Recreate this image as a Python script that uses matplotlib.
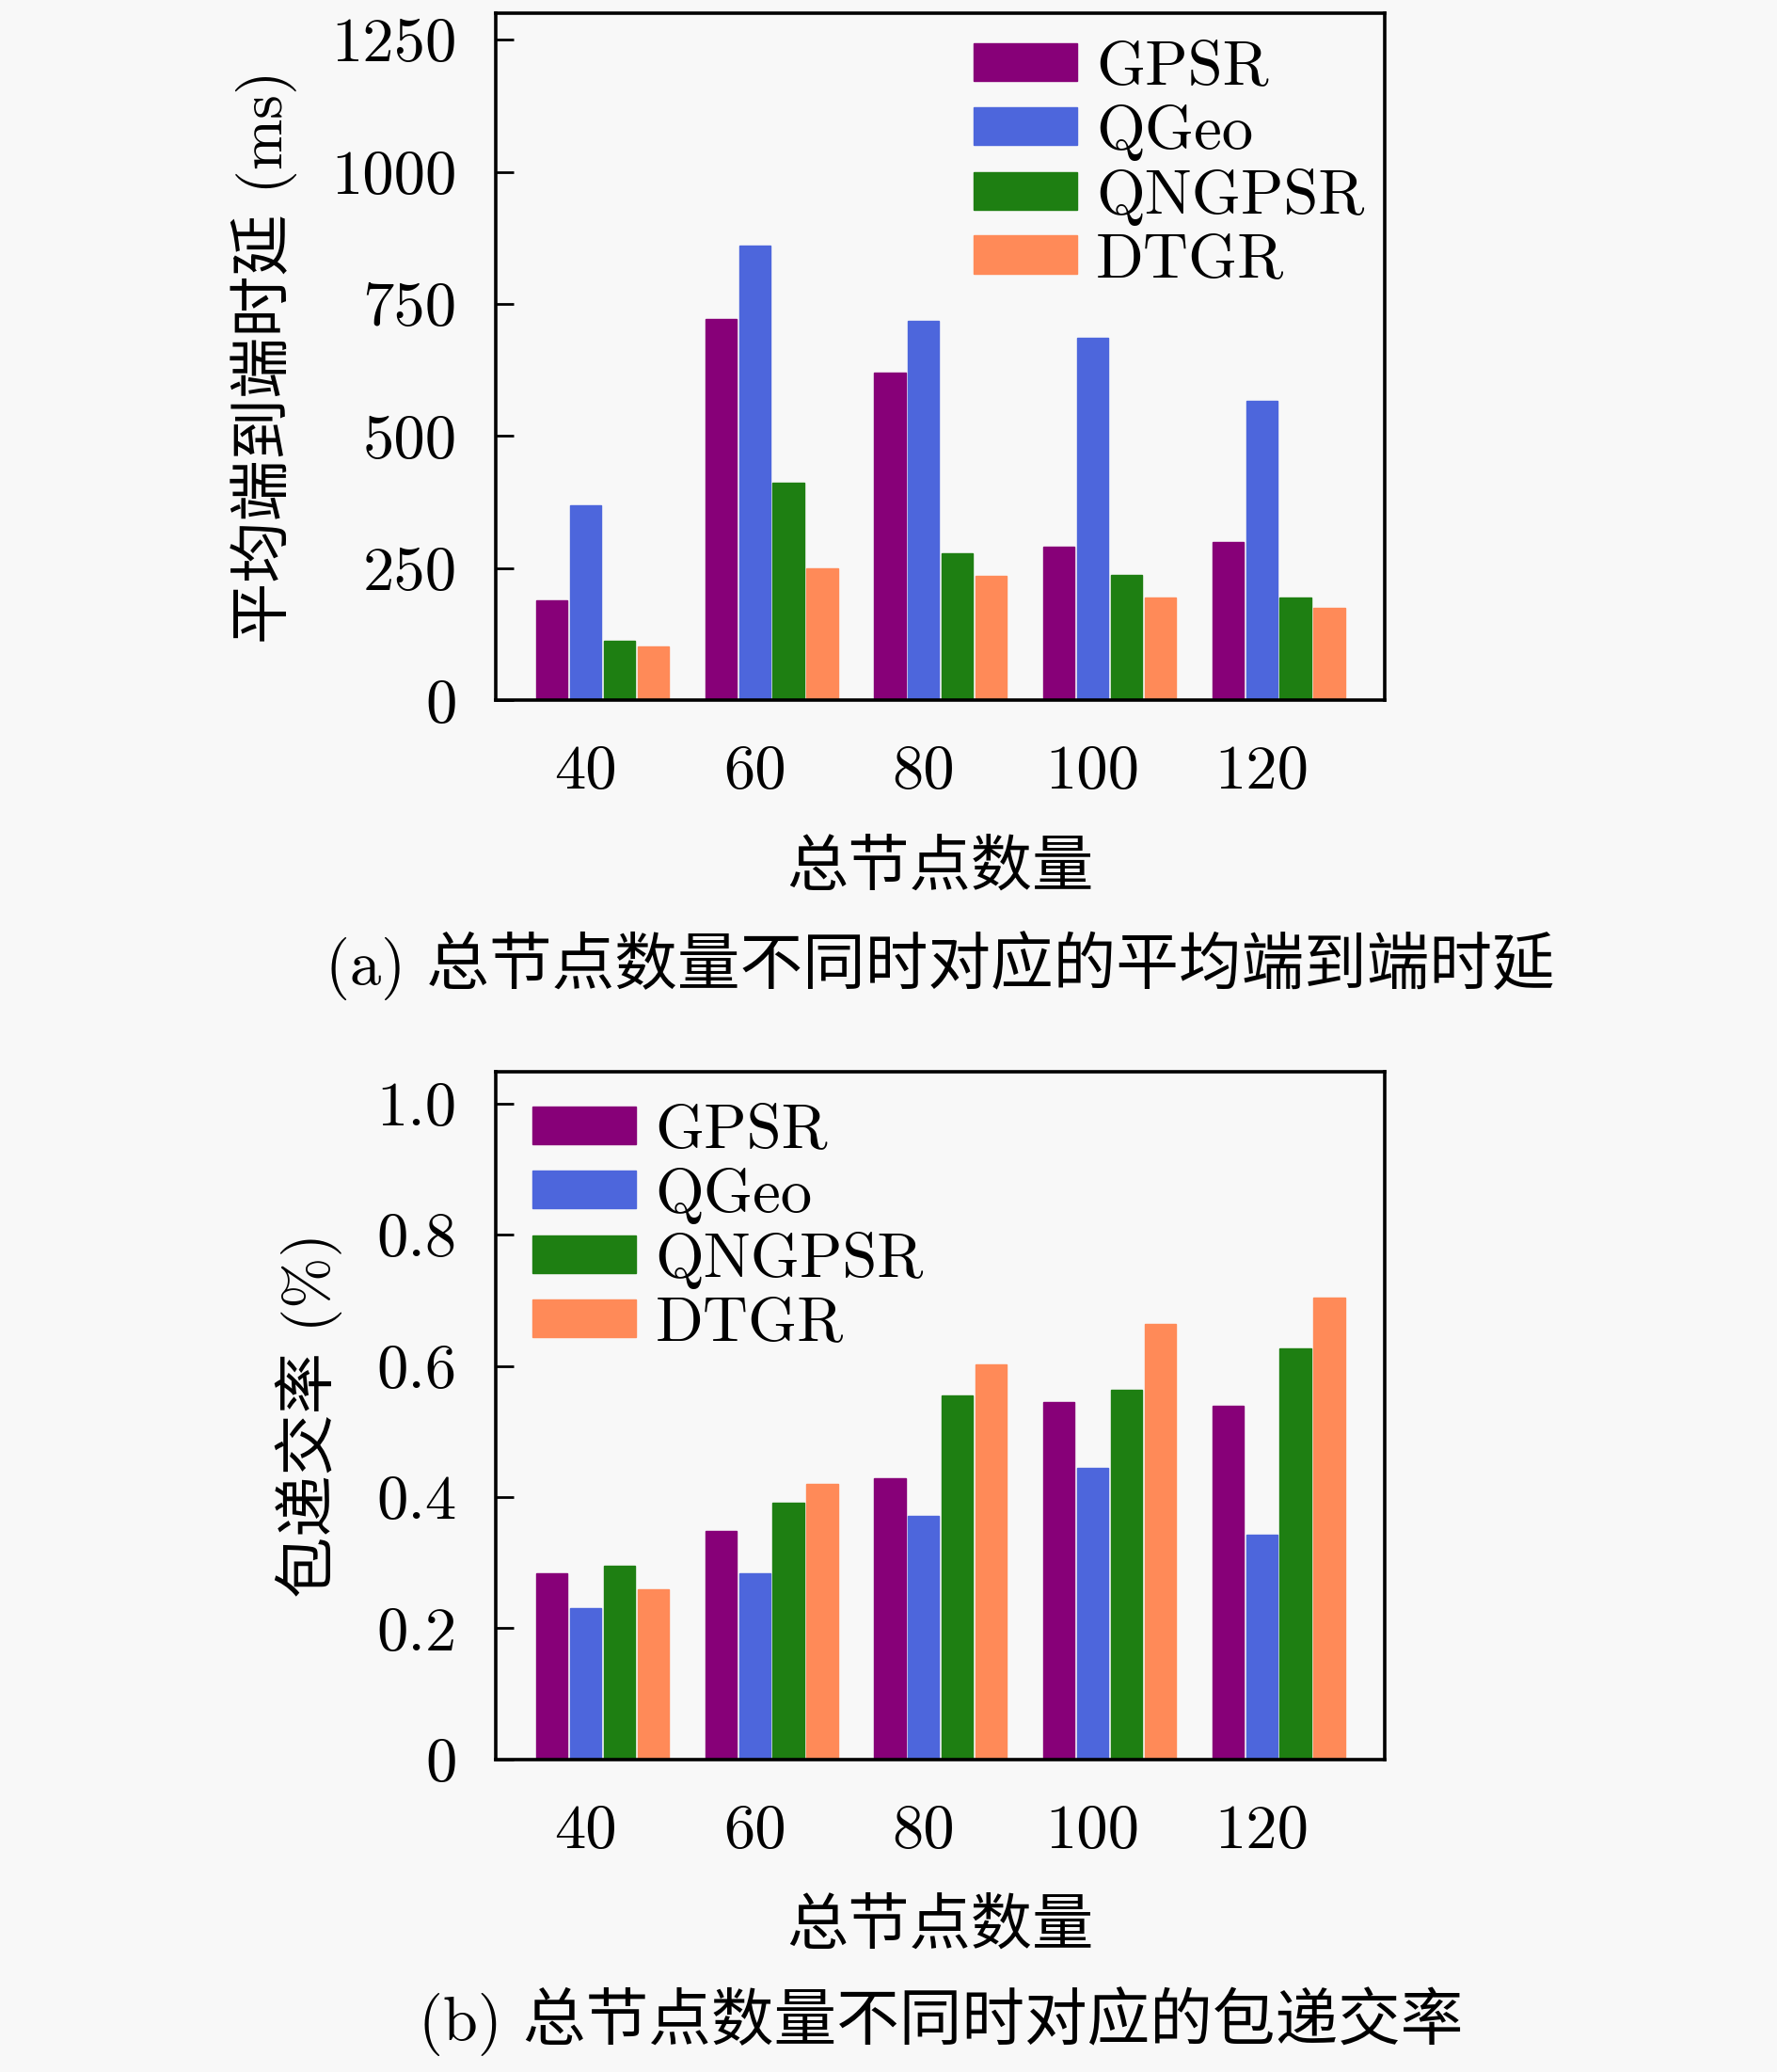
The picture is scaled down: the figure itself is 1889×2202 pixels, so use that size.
import matplotlib
matplotlib.use("Agg")
import matplotlib.pyplot as plt
import numpy as np

plt.rcParams['font.family'] = ['cmr10', 'Noto Sans CJK SC', 'DejaVu Sans']
plt.rcParams['axes.formatter.use_mathtext'] = True
plt.rcParams['mathtext.fontset'] = 'cm'

categories = ['40', '60', '80', '100', '120']
series = ['GPSR', 'QGeo', 'QNGPSR', 'DTGR']
colors = ['#870078', '#4d66dc', '#1e7f12', '#ff8a58']

delay_gpsr = [190, 722, 620, 290, 300]
delay_qgeo = [369, 861, 718, 686, 566]
delay_qngpsr = [112, 412, 279, 237, 195]
delay_dtgr = [102, 250, 235, 195, 175]

pdr_gpsr = [0.284, 0.348, 0.429, 0.545, 0.539]
pdr_qgeo = [0.231, 0.284, 0.372, 0.445, 0.342]
pdr_qngpsr = [0.296, 0.392, 0.555, 0.563, 0.626]
pdr_dtgr = [0.260, 0.420, 0.602, 0.664, 0.704]

delay_ticks = [0, 250, 500, 750, 1000, 1250]
delay_ticklabels = ['0', '250', '500', '750', '1000', '1250']
pdr_ticks = [0, 0.2, 0.4, 0.6, 0.8, 1.0]
pdr_ticklabels = ['0', '0.2', '0.4', '0.6', '0.8', '1.0']

bg = '#f8f8f8'
fig = plt.figure(figsize=(18.9, 22.02), dpi=100, facecolor=bg)

FS = 48
CJK = 47

def draw(ax, data, ylim, ticks, ticklabels, ylabel, legloc, bbox):
    x = np.arange(len(categories))
    offsets = [-0.2, 0.0, 0.2, 0.4]
    w = 0.185
    for vals, name, c, off in zip(data, series, colors, offsets):
        ax.bar(x + off, vals, width=w, color=c, edgecolor=c, linewidth=1.0, label=name, zorder=2)
    ax.set_facecolor(bg)
    ax.set_xlim(-0.53, 4.73)
    ax.set_ylim(*ylim)
    ax.set_xticks(x)
    ax.set_xticklabels(categories)
    ax.set_yticks(ticks)
    ax.set_yticklabels(ticklabels)
    ax.tick_params(axis='both', direction='in', length=14, width=2, labelsize=FS)
    ax.tick_params(axis='x', pad=34)
    ax.tick_params(axis='y', pad=30)
    for s in ax.spines.values():
        s.set_linewidth(2.6)
    ax.set_xlabel('总节点数量', fontsize=CJK, labelpad=30)
    ax.set_ylabel(ylabel, fontsize=CJK, labelpad=26)
    leg = ax.legend(loc=legloc, bbox_to_anchor=bbox, frameon=False, fontsize=FS,
                    handlelength=1.65, handleheight=0.55, handletextpad=0.3,
                    labelspacing=0.12, borderaxespad=0.0)
    return leg

ax1 = fig.add_axes([0.279, 0.662, 0.5, 0.3316])
draw(ax1, [delay_gpsr, delay_qgeo, delay_qngpsr, delay_dtgr], (0, 1300),
     delay_ticks, delay_ticklabels, '平均端到端时延 (ms)', 'upper right', (1.005, 0.997))

ax2 = fig.add_axes([0.279, 0.1508, 0.5, 0.3319])
draw(ax2, [pdr_gpsr, pdr_qgeo, pdr_qngpsr, pdr_dtgr], (0, 1.048),
     pdr_ticks, pdr_ticklabels, '包递交率 (%)', 'upper left', (0.013, 0.99))

fig.text(0.529, 0.534, '(a) 总节点数量不同时对应的平均端到端时延', fontsize=48,
         ha='center', va='center')
fig.text(0.529, 0.0245, '(b) 总节点数量不同时对应的包递交率', fontsize=48,
         ha='center', va='center')

fig.savefig('out.png', dpi=100, facecolor=bg)
